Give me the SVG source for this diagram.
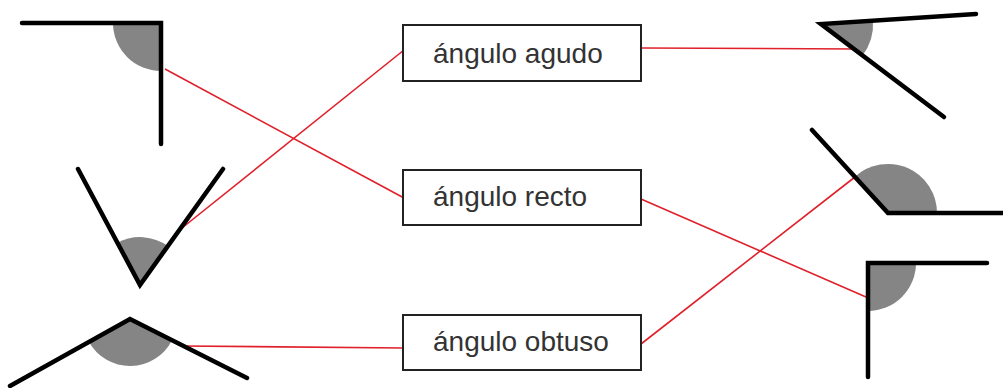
<svg xmlns="http://www.w3.org/2000/svg" width="1003" height="388" viewBox="0 0 1003 388">
<style>
.sector{fill:#858585;stroke:none}
.arm{fill:none;stroke:#000;stroke-width:4.5;stroke-linecap:round;stroke-linejoin:miter}
.box{fill:#fff;stroke:#222;stroke-width:2}
.lbl{font-family:"Liberation Sans",Arial,sans-serif;font-size:28px;fill:#333}
.link{stroke:#e0202a;stroke-width:1.6;fill:none}
</style>
<rect width="1003" height="388" fill="#fff"/>
<g id="connectors">
<line class="link" x1="165" y1="69" x2="404" y2="198"/>
<line class="link" x1="177" y1="232" x2="404" y2="50"/>
<line class="link" x1="182" y1="346" x2="404" y2="348"/>
<line class="link" x1="641" y1="48" x2="857" y2="49"/>
<line class="link" x1="641" y1="199" x2="866" y2="297"/>
<line class="link" x1="641" y1="344" x2="855" y2="177"/>
</g>
<g id="angle-right-left">
<path class="sector" d="M161,23 L113,23 A48,48 0 0,0 161,71 Z"/>
<polyline class="arm" points="22,23 161,23 161,144"/>
</g>
<g id="angle-acute-left">
<path class="sector" d="M140,285 L117.4,242.7 A48,48 0 0,1 167.9,246 Z"/>
<polyline class="arm" points="78,169 140,285 223,169"/>
</g>
<g id="angle-obtuse-left">
<path class="sector" d="M130,319 L172,340.2 A47,47 0 0,1 89,341.9 Z"/>
<polyline class="arm" points="10,386 130,319 247,378"/>
</g>
<g id="box-agudo">
<rect class="box" x="403" y="25" width="238" height="56"/>
<text class="lbl" x="433" y="63">ángulo agudo</text>
</g>
<g id="box-recto">
<rect class="box" x="403" y="170" width="238" height="55"/>
<text class="lbl" x="433" y="206">ángulo recto</text>
</g>
<g id="box-obtuso">
<rect class="box" x="403" y="315" width="238" height="55"/>
<text class="lbl" x="433" y="351">ángulo obtuso</text>
</g>
<g id="angle-acute-right">
<path class="sector" d="M821,24 L873,20.7 A52,52 0 0,1 862.5,55.4 Z"/>
<polyline class="arm" points="976,14 821,24 944,117"/>
</g>
<g id="angle-obtuse-right">
<path class="sector" d="M888,213 L937,213 A49,49 0 0,0 854.9,176.8 Z"/>
<polyline class="arm" points="812,130 888,213 1003,213"/>
</g>
<g id="angle-right-right">
<path class="sector" d="M868,263 L916,263 A48,48 0 0,1 868,311 Z"/>
<polyline class="arm" points="987,263 868,263 868,377"/>
</g>
</svg>
